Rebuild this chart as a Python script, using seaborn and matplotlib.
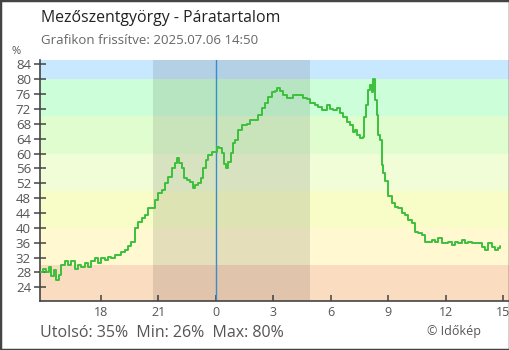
import matplotlib
matplotlib.use("Agg")
import matplotlib.pyplot as plt
import seaborn as sns
import pandas as pd
from matplotlib.patches import Rectangle

# Humidity record: minutes relative to midnight, relative humidity in %
minutes = [-551, -540, -530, -523, -515, -506, -499, -491, -483, -473, -462, -452,
           -441, -431, -421, -410, -400, -389, -379, -368, -358, -347, -337, -327,
           -316, -306, -295, -285, -274, -264, -253, -242, -232, -221, -211, -200,
           -190, -180, -169, -159, -148, -138, -127, -122, -114, -106, -99, -91,
           -80, -72, -65, -54, -47, -39, -30, -23, -13, -2, 3, 11,
           19, 26, 32, 39, 47, 53, 60, 71, 81, 97, 107, 123,
           133, 144, 154, 165, 175, 186, 191, 201, 212, 222, 233, 243,
           254, 264, 274, 285, 295, 311, 321, 332, 347, 358, 368, 379,
           389, 399, 410, 420, 429, 436, 443, 452, 460, 465, 470, 478,
           483, 488, 493, 499, 504, 509, 514, 520, 525, 530, 540, 551,
           561, 572, 582, 593, 603, 613, 624, 634, 645, 655, 665, 676,
           686, 697, 707, 718, 728, 739, 749, 759, 770, 780, 791, 801,
           812, 822, 833, 843, 853, 864, 874, 885, 890]
humidity = [28, 29, 28, 29.5, 27, 28.6, 26, 27.3, 30, 31, 30, 31,
            29, 30, 29.5, 30.5, 29.5, 31, 32, 30.5, 32, 31.3, 32.2, 31.8,
            32.7, 32.7, 33.6, 34, 35, 36.3, 39.9, 41.7, 42.6, 43.5, 45.3, 45.3,
            47.5, 49.3, 50.2, 52, 53.8, 56, 57.4, 58.7, 57.4, 56, 53.3, 52.9,
            52.4, 50.6, 51.5, 52, 53.3, 56, 58.3, 59.6, 60.3, 60.5, 61.8, 61.6,
            60.1, 57.1, 56.2, 57.8, 60.1, 62.7, 63.6, 66.3, 67.7, 67.9, 69, 69,
            70.4, 72.2, 73.5, 75.3, 76.6, 76.8, 77.5, 76.8, 75.7, 74.9, 75, 75.7,
            75.7, 75.7, 74.9, 74.7, 73.6, 73, 72.6, 71.7, 73, 71.9, 71.7, 72.2,
            70.8, 69.9, 68.6, 67.7, 65.9, 66.3, 65, 64.1, 64.5, 69.9, 73, 77.1,
            78.4, 76.6, 80, 74.4, 70.4, 65, 63.6, 56.9, 54.7, 52.6, 48.6, 46.8,
            45.5, 45.3, 43.9, 43.5, 42.1, 41.2, 39, 38.5, 38.1, 36.3, 36.3, 36.7,
            36.3, 37.2, 35.8, 35.8, 36.3, 35.4, 36.3, 35.8, 36.7, 35.8, 36.3, 35.8,
            35.8, 35.8, 34.9, 34, 35.8, 34.9, 34, 34.5, 35]

# Background humidity bands (lower edge, upper edge, colour)
band_edges = [0, 30, 40, 50, 60, 70, 80, 100]
band_colors = ["#fadcc0", "#fff8d0", "#f8fdc8", "#f0fdd6", "#e0fdd0", "#ccffd9", "#c8e8ff"]

# Night interval (sunset to sunrise), minutes relative to midnight
night_start, night_end = -196, 296

tick_minutes = [-360, -180, 0, 180, 360, 540, 720, 900]
tick_labels = ["18", "21", "0", "3", "6", "9", "12", "15"]
y_ticks = list(range(24, 85, 4))

place = "Mezőszentgyörgy"
updated = "2025.07.06 14:50"
last_val, min_val, max_val = 35, 26, 80

sns.set_style("white")
plt.rcParams["font.family"] = ["Open Sans", "DejaVu Sans"]

fig = plt.figure(figsize=(5.1, 3.5), dpi=100)
ax = fig.add_axes([40 / 510, 49.5 / 350, 469 / 510, 240.5 / 350])

xmin, xmax = -550, 918
ymin, ymax = 20.45, 85.16

for lo, hi, col in zip(band_edges[:-1], band_edges[1:], band_colors):
    ax.axhspan(lo, hi, color=col, lw=0, zorder=0)
ax.axvspan(night_start, night_end, color="black", alpha=0.1, lw=0, zorder=1)
ax.axvline(0, color="#3a8ccc", lw=1, zorder=2)

df = pd.DataFrame({"minute": minutes, "humidity": humidity})
sns.lineplot(data=df, x="minute", y="humidity", ax=ax, color="#3cc03c",
             lw=1.4, zorder=3, estimator=None, drawstyle="steps-post")

ax.set_xlim(xmin, xmax)
ax.set_ylim(ymin, ymax)
ax.set_xlabel("")
ax.set_ylabel("")
ax.set_xticks(tick_minutes)
ax.set_xticklabels(tick_labels)
ax.set_yticks(y_ticks)
ax.set_yticklabels([str(v) for v in y_ticks])

for side in ["top", "right"]:
    ax.spines[side].set_visible(False)
for side in ["left", "bottom"]:
    ax.spines[side].set_color("#444444")
    ax.spines[side].set_linewidth(1.2)

ax.tick_params(axis="y", direction="inout", length=9, width=1.1, color="#444444",
               labelsize=9.5, labelcolor="#555555", pad=2, left=True)
ax.tick_params(axis="x", direction="in", length=4.5, width=1.1, color="#444444",
               labelsize=9, labelcolor="#555555", pad=4, bottom=True)

fig.text(41 / 510, 1 - 18 / 350, f"{place} - Páratartalom", fontsize=11.4,
         color="#222222", va="center", ha="left")
fig.text(41 / 510, 1 - 40 / 350, f"Grafikon frissítve: {updated}", fontsize=9.5,
         color="#666666", va="center", ha="left")
fig.text(16 / 510, 1 - 51 / 350, "%", fontsize=8, color="#555555", va="center", ha="center")
fig.text(40 / 510, 1 - 333 / 350,
         f"Utolsó: {last_val}%  Min: {min_val}%  Max: {max_val}%",
         fontsize=11.5, color="#555555", va="center", ha="left")
fig.text(481 / 510, 1 - 331 / 350, "© Időkép", fontsize=9, color="#555555",
         va="center", ha="right")

fig.patches.append(Rectangle((0, 0), 1, 1, transform=fig.transFigure, fill=False,
                             edgecolor="#444444", lw=2.5, zorder=10))

fig.savefig("out.png", dpi=100)
